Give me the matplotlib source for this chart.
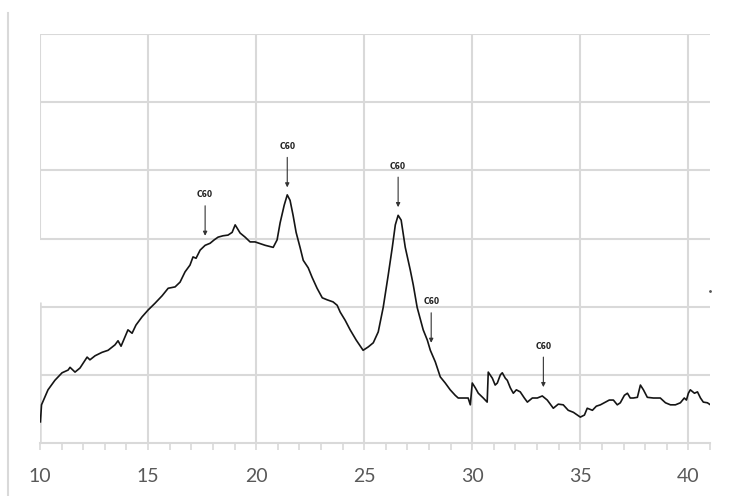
import numpy as np
import matplotlib.pyplot as plt
from matplotlib.ticker import MultipleLocator
from matplotlib.lines import Line2D

# ------------------------------------------------------------
# XRD trace (2-theta vs intensity, grid units)
# ------------------------------------------------------------
two_theta = [10.02, 10.07, 10.37, 10.69, 11.02, 11.30, 11.39, 11.62, 11.85, 12.18,
             12.31, 12.55, 12.87, 13.15, 13.47, 13.61, 13.75, 14.07, 14.26, 14.44,
             14.72, 15.00, 15.32, 15.65, 15.93, 16.25, 16.48, 16.71, 16.94, 17.08,
             17.22, 17.41, 17.64, 17.87, 18.06, 18.24, 18.47, 18.70, 18.89, 19.03,
             19.26, 19.49, 19.72, 19.95, 20.42, 20.79, 20.97, 21.11, 21.30, 21.44,
             21.57, 21.71, 21.85, 22.04, 22.18, 22.41, 22.59, 22.82, 23.06, 23.29,
             23.56, 23.75, 23.89, 24.12, 24.35, 24.63, 24.95, 25.19, 25.42, 25.65,
             25.88, 26.11, 26.30, 26.44, 26.57, 26.71, 26.90, 27.13, 27.27, 27.45,
             27.73, 27.92, 28.06, 28.29, 28.52, 28.75, 28.98, 29.21, 29.35, 29.58,
             29.81, 29.91, 30.00, 30.14, 30.28, 30.51, 30.69, 30.74, 30.93, 31.06,
             31.16, 31.30, 31.39, 31.53, 31.62, 31.76, 31.90, 32.04, 32.22, 32.41,
             32.55, 32.78, 33.01, 33.24, 33.47, 33.61, 33.75, 33.98, 34.21, 34.44,
             34.68, 34.86, 35.00, 35.19, 35.32, 35.56, 35.74, 35.93, 36.16, 36.34,
             36.53, 36.71, 36.85, 37.04, 37.18, 37.31, 37.45, 37.64, 37.78, 37.92,
             38.10, 38.38, 38.70, 38.94, 39.17, 39.40, 39.63, 39.81, 39.91, 40.00,
             40.09, 40.28, 40.42, 40.56, 40.69, 40.88, 41.02]
intensity = [0.31, 0.56, 0.78, 0.92, 1.03, 1.07, 1.11, 1.04, 1.10, 1.26,
             1.22, 1.28, 1.33, 1.36, 1.44, 1.50, 1.42, 1.66, 1.61, 1.73,
             1.85, 1.95, 2.05, 2.16, 2.27, 2.29, 2.36, 2.51, 2.61, 2.73,
             2.71, 2.83, 2.90, 2.93, 2.98, 3.02, 3.04, 3.05, 3.09, 3.20,
             3.08, 3.02, 2.95, 2.95, 2.90, 2.87, 2.98, 3.23, 3.49, 3.64,
             3.56, 3.34, 3.09, 2.86, 2.68, 2.57, 2.43, 2.27, 2.13, 2.10,
             2.07, 2.02, 1.92, 1.80, 1.66, 1.51, 1.36, 1.41, 1.47, 1.63,
             1.99, 2.46, 2.87, 3.20, 3.34, 3.27, 2.87, 2.54, 2.32, 1.99,
             1.66, 1.51, 1.36, 1.19, 0.97, 0.88, 0.78, 0.70, 0.66, 0.66,
             0.66, 0.56, 0.88, 0.81, 0.73, 0.66, 0.60, 1.04, 0.95, 0.85,
             0.88, 1.00, 1.03, 0.95, 0.92, 0.81, 0.73, 0.78, 0.75, 0.66,
             0.60, 0.66, 0.66, 0.69, 0.63, 0.57, 0.51, 0.57, 0.56, 0.48,
             0.45, 0.41, 0.38, 0.41, 0.51, 0.48, 0.54, 0.56, 0.60, 0.63,
             0.63, 0.56, 0.59, 0.70, 0.73, 0.66, 0.66, 0.67, 0.85, 0.78,
             0.67, 0.66, 0.66, 0.59, 0.56, 0.56, 0.59, 0.66, 0.63, 0.73,
             0.78, 0.73, 0.75, 0.66, 0.60, 0.59, 0.56]

# C60 markers: arrow tip positions
c60_x = [17.64, 21.44, 26.57, 28.10, 33.29]
c60_y = [3.04, 3.75, 3.46, 1.47, 0.82]
c60_label = 'C60'

x_ticks = [10, 15, 20, 25, 30, 35, 40]
y_grid = [1, 2, 3, 4, 5, 6]

grid_col = '#d9d9d9'

fig = plt.figure(figsize=(7.29, 4.96), dpi=100)
ax = fig.add_axes([40 / 729, 53 / 496, 670 / 729, 409 / 496])

# grid drawn by hand (the left border has a gap in the original)
ax.hlines(y_grid, 10, 41, color=grid_col, lw=1.5, zorder=1)
ax.vlines(x_ticks[1:], 0, 6, color=grid_col, lw=1.5, zorder=1)
ax.vlines(10, 0, 2.07, color=grid_col, lw=1.8, zorder=1)
ax.vlines(10, 2.98, 6, color=grid_col, lw=1.5, zorder=1)

ax.plot(two_theta, intensity, color='#151515', lw=1.2, zorder=3)

for xx, yy in zip(c60_x, c60_y):
    ax.annotate('', xy=(xx, yy), xytext=(xx, yy + 0.44),
                arrowprops=dict(arrowstyle='-|>', color='#333333', lw=0.8,
                                mutation_scale=6, shrinkA=0, shrinkB=0),
                zorder=4)
    ax.text(xx, yy + 0.60, c60_label, ha='center', va='center', fontsize=5.5,
            fontweight='bold', color='#222222',
            family=['Liberation Sans Narrow', 'DejaVu Sans'])

# stray mark at the right edge
ax.plot([41.02], [2.23], marker='.', ms=2, color='#555555', clip_on=False)

ax.set_xlim(10, 41)
ax.set_ylim(0, 6)
for s in ['top', 'right', 'left']:
    ax.spines[s].set_visible(False)
ax.spines['bottom'].set_color(grid_col)
ax.spines['bottom'].set_linewidth(1.5)

ax.xaxis.set_minor_locator(MultipleLocator(1))
ax.set_xticks(x_ticks)
ax.tick_params(axis='x', which='both', length=5, width=1.2, color=grid_col,
               labelsize=14, labelcolor='#595959', pad=13)
ax.set_yticks([])
for lab in ax.get_xticklabels():
    lab.set_family(['Lato', 'DejaVu Sans'])

# thin frame line on the far left of the figure
fig.add_artist(Line2D([8 / 729, 8 / 729], [0, 483 / 496], transform=fig.transFigure,
                      color=grid_col, lw=1.5))

fig.savefig('out.png', dpi=100)
